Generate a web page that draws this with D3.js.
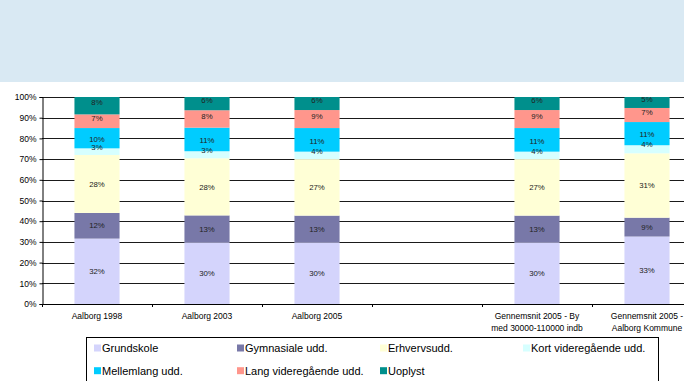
<!DOCTYPE html>
<html>
<head>
<meta charset="utf-8">
<script src="https://cdn.jsdelivr.net/npm/d3@7"></script>
<style>
  html, body { margin: 0; padding: 0; background: #fff; overflow: hidden; }
  svg { display: block; font-family: Arial, "Liberation Sans", sans-serif; }
</style>
</head>
<body>
<svg id="chart" width="684" height="381"></svg>
<script>
// ---- data ----
const categories = [
  "Aalborg 1998",
  "Aalborg 2003",
  "Aalborg 2005",
  "",
  "Gennemsnit 2005 - By\nmed 30000-110000 indb",
  "Gennemsnit 2005 -\nAalborg Kommune"
];
const seriesNames = [
  "Grundskole", "Gymnasiale udd.", "Erhvervsudd.", "Kort videregående udd.",
  "Mellemlang udd.", "Lang videregående udd.", "Uoplyst"
];
const grundskole  = [31.6, 29.8, 29.8, null, 29.8, 32.6];
const gymnasiale  = [12.4, 13.0, 12.9, null, 12.9,  9.1];
const erhverv     = [28.0, 27.6, 27.3, null, 27.3, 31.1];
const kortVid     = [ 3.2,  3.4,  3.6, null,  3.6,  3.9];
const mellemlang  = [ 9.8, 11.4, 11.4, null, 11.4, 11.2];
const langVid     = [ 6.6,  8.4,  8.7, null,  8.7,  6.8];
const uoplyst     = [ 8.4,  6.4,  6.3, null,  6.3,  5.3];
const yTicks = [0, 10, 20, 30, 40, 50, 60, 70, 80, 90, 100];

const seriesValues = [grundskole, gymnasiale, erhverv, kortVid, mellemlang, langVid, uoplyst];
const colors = ["#d4d4fc", "#7878a8", "#ffffd6", "#d6ffff", "#00ccff", "#ff968c", "#008f8c"];
const labelShift = [0, 0, 0, -4.5, 1, -3, -3];

// ---- layout ----
const svg = d3.select("#chart");
const plotLeft = 42, plotRight = 702, plotTop = 97, plotBottom = 304;

// header band
svg.append("rect").attr("x", 0).attr("y", 0).attr("width", 684).attr("height", 82)
  .attr("fill", "#d9e9f3");

const x = d3.scaleBand().domain(d3.range(categories.length))
  .range([plotLeft, plotRight]).paddingInner(0.59).paddingOuter(0.295);
const y = d3.scaleLinear().domain([0, 100]).range([plotBottom, plotTop]);

// gridlines
svg.append("g").selectAll("line").data(yTicks.filter(t => t > 0)).join("line")
  .attr("x1", plotLeft).attr("x2", 684)
  .attr("y1", d => Math.round(y(d)) + 0.5).attr("y2", d => Math.round(y(d)) + 0.5)
  .attr("stroke", "#1a1a1a").attr("stroke-width", 1);

// stacked data
const rows = categories.map((c, i) => {
  const o = { i };
  seriesNames.forEach((s, k) => o[s] = seriesValues[k][i] == null ? 0 : seriesValues[k][i]);
  return o;
});
const stack = d3.stack().keys(seriesNames)(rows);

const gBars = svg.append("g");
stack.forEach((layer, k) => {
  const valid = layer.filter(d => seriesValues[k][d.data.i] != null);
  gBars.append("g").selectAll("rect").data(valid).join("rect")
    .attr("x", d => x(d.data.i))
    .attr("width", x.bandwidth())
    .attr("y", d => y(d[1]))
    .attr("height", d => y(d[0]) - y(d[1]))
    .attr("fill", colors[k]);
});

// data labels
stack.forEach((layer, k) => {
  const valid = layer.filter(d => seriesValues[k][d.data.i] != null);
  svg.append("g").selectAll("text").data(valid).join("text")
    .attr("x", d => x(d.data.i) + x.bandwidth() / 2)
    .attr("y", d => y((d[0] + d[1]) / 2) + labelShift[k])
    .attr("dy", "0.35em")
    .attr("text-anchor", "middle")
    .attr("font-size", "7.8px")
    .attr("fill", "#222")
    .text(d => Math.round(d[1] - d[0]) + "%");
});

// y axis
const yAxis = d3.axisLeft(y).tickValues(yTicks).tickFormat(d => d + "%")
  .tickSize(3).tickPadding(3);
const gy = svg.append("g").attr("transform", `translate(${plotLeft + 0.5},0)`).call(yAxis);
gy.select(".domain").attr("stroke", "#000");
gy.selectAll(".tick line").attr("stroke", "#000");
gy.selectAll(".tick text").attr("font-size", "8.5px").attr("fill", "#000")
  .attr("font-family", "Arial, 'Liberation Sans', sans-serif");

// x axis line and boundary ticks
svg.append("line").attr("x1", plotLeft).attr("x2", 684)
  .attr("y1", plotBottom + 0.5).attr("y2", plotBottom + 0.5).attr("stroke", "#000");
const step = x.step();
svg.append("g").selectAll("line").data(d3.range(categories.length + 1)).join("line")
  .attr("x1", d => Math.round(plotLeft + d * step) + 0.5)
  .attr("x2", d => Math.round(plotLeft + d * step) + 0.5)
  .attr("y1", plotBottom).attr("y2", plotBottom + 3).attr("stroke", "#000");

// x labels
const gx = svg.append("g");
categories.forEach((c, i) => {
  if (!c) return;
  const t = gx.append("text")
    .attr("x", x(i) + x.bandwidth() / 2)
    .attr("y", 319)
    .attr("text-anchor", "middle")
    .attr("font-size", "8.5px")
    .attr("fill", "#000");
  c.split("\n").forEach((line, j) => {
    t.append("tspan").attr("x", x(i) + x.bandwidth() / 2)
      .attr("dy", j === 0 ? 0 : 11.6).text(line);
  });
});

// legend
svg.append("rect").attr("x", 86.5).attr("y", 337.5).attr("width", 572).attr("height", 60)
  .attr("fill", "#fff").attr("stroke", "#000");
const legCols = [94, 237, 380, 523];
seriesNames.forEach((s, k) => {
  const col = k % 4, row = Math.floor(k / 4);
  const lx = legCols[col], ly = 348 + row * 22.7;
  svg.append("rect").attr("x", lx).attr("y", ly - 3.5).attr("width", 7).attr("height", 7)
    .attr("fill", colors[k]);
  svg.append("text").attr("x", lx + 8).attr("y", ly).attr("dy", "0.36em")
    .attr("font-size", "11px").attr("fill", "#000").text(s);
});
</script>
</body>
</html>
